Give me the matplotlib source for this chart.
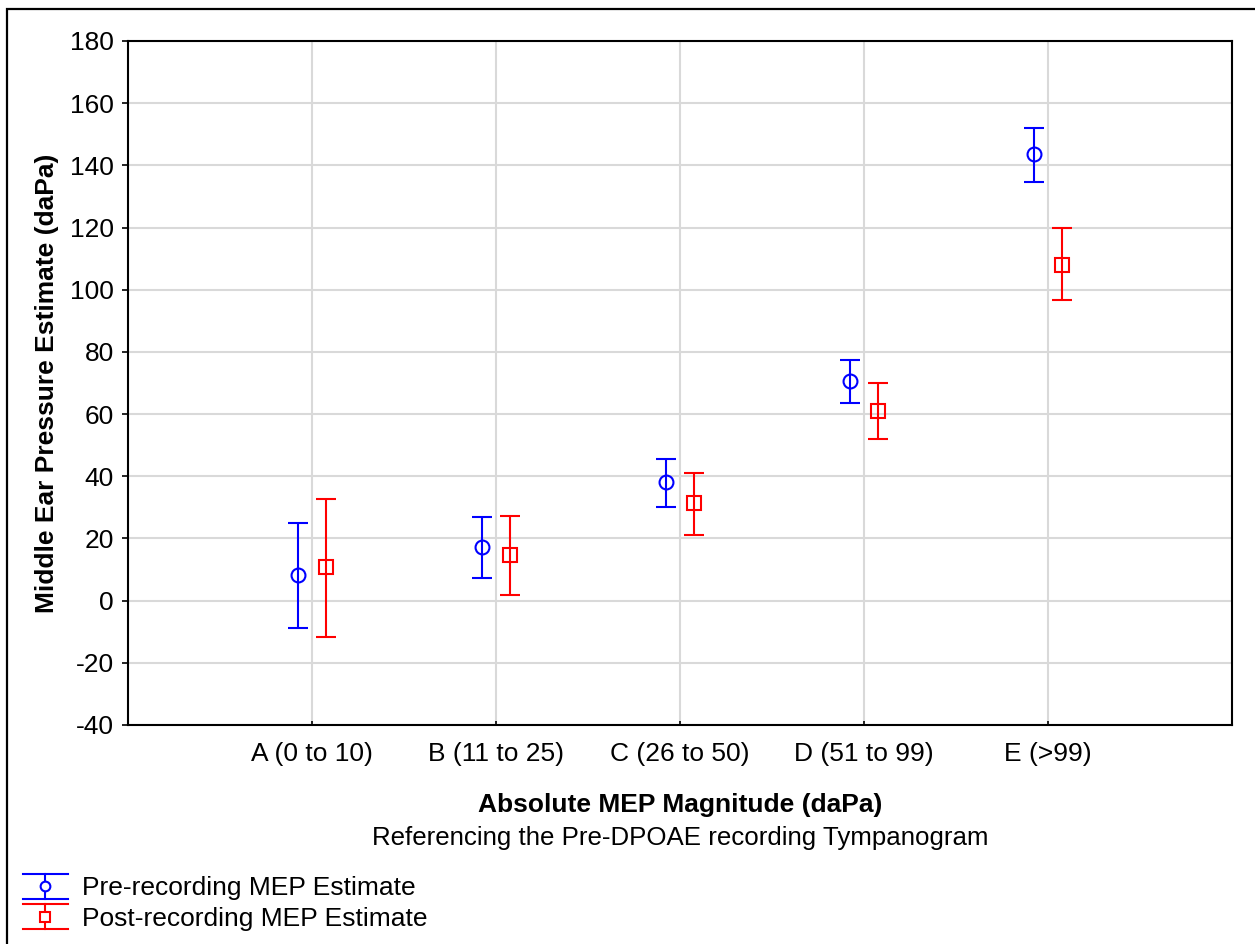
import matplotlib
matplotlib.use("Agg")
import matplotlib.pyplot as plt
from matplotlib.patches import Rectangle
from matplotlib.lines import Line2D
from matplotlib.legend_handler import HandlerBase
import numpy as np

plt.rcParams['font.family'] = ['Liberation Sans', 'DejaVu Sans']

# Groups of absolute middle-ear pressure magnitude
categories = ["A (0 to 10)", "B (11 to 25)", "C (26 to 50)", "D (51 to 99)", "E (>99)"]

# Pre-recording estimate: mean with lower / upper bounds (daPa)
pre_mean = [8.4, 17.4, 38.0, 70.8, 143.5]
pre_low = [-8.7, 7.4, 30.2, 63.7, 134.8]
pre_high = [25.1, 27.0, 45.4, 77.5, 152.1]

# Post-recording estimate: mean with lower / upper bounds (daPa)
post_mean = [10.9, 14.8, 31.5, 61.1, 108.1]
post_low = [-11.6, 1.9, 21.2, 52.1, 96.8]
post_high = [32.8, 27.3, 41.2, 70.1, 119.7]

y_ticks = [-40, -20, 0, 20, 40, 60, 80, 100, 120, 140, 160, 180]

FS = 19
W, H = 1255, 944
fig = plt.figure(figsize=(W / 100, H / 100), dpi=100)

# outer frame around the whole graphic
fig.patches.append(Rectangle((7 / W, -0.05), 1.1, 1 - 9 / H + 0.05, transform=fig.transFigure,
                             fill=False, edgecolor='black', linewidth=1.6))

ax = fig.add_axes([128 / W, (H - 725) / H, 1104 / W, 684 / H])

x = np.arange(1, len(categories) + 1)
off = 0.076

def draw(xpos, mean, low, high, color, marker, ms, label):
    mean = np.asarray(mean)
    yerr = np.vstack([mean - np.asarray(low), np.asarray(high) - mean])
    return ax.errorbar(xpos, mean, yerr=yerr, fmt=marker, color=color, ecolor=color,
                       markerfacecolor='none', markeredgecolor=color, markeredgewidth=1.5,
                       markersize=ms, elinewidth=1.5, capsize=7.5, capthick=1.5,
                       label=label, zorder=3)

h1 = draw(x - off, pre_mean, pre_low, pre_high, '#0000ff', 'o', 10, "Pre-recording MEP Estimate")
h2 = draw(x + off, post_mean, post_low, post_high, '#ff0000', 's', 9.5, "Post-recording MEP Estimate")

ax.set_xlim(0, 6)
ax.set_ylim(-40, 180)
ax.set_xticks(x)
ax.set_xticklabels(categories, fontsize=FS)
ax.set_yticks(y_ticks)
ax.set_yticklabels([str(v) for v in y_ticks], fontsize=FS)
ax.tick_params(axis='y', direction='out', length=4, width=1.2, pad=6)
ax.tick_params(axis='x', direction='in', length=3, width=1.2, pad=12)

ax.grid(True, color='#d9d9d9', linewidth=1.5, zorder=0)
ax.set_axisbelow(True)
for s in ax.spines.values():
    s.set_linewidth(1.5)
    s.set_color('black')

ax.set_ylabel("Middle Ear Pressure Estimate (daPa)", fontsize=FS, fontweight='bold', labelpad=8)
fig.text((128 + 552) / W, 1 - 805 / H, "Absolute MEP Magnitude (daPa)", ha='center', va='center',
         fontsize=FS, fontweight='bold')
fig.text((128 + 552) / W, 1 - 838 / H, "Referencing the Pre-DPOAE recording Tympanogram",
         ha='center', va='center', fontsize=18.6)


class WideCapHandler(HandlerBase):
    """Legend glyph: full-width caps, a centre stem and the point marker."""

    def create_artists(self, legend, orig_handle, xdescent, ydescent, width, height,
                       fontsize, trans):
        data_line = orig_handle.lines[0]
        color = data_line.get_markeredgecolor()
        yc = height / 2 - ydescent
        half = 0.68 * height
        top, bot = yc + half, yc - half
        xc = width / 2 - xdescent
        cap_t = Line2D([-xdescent, width - xdescent], [top, top], color=color, lw=1.5)
        cap_b = Line2D([-xdescent, width - xdescent], [bot, bot], color=color, lw=1.5)
        stem = Line2D([xc, xc], [bot, top], color=color, lw=1.5)
        mk = Line2D([xc], [yc], marker=data_line.get_marker(), markersize=7,
                    markerfacecolor='white', markeredgecolor=color, markeredgewidth=1.5,
                    linestyle='none')
        arts = [cap_t, cap_b, stem, mk]
        for a in arts:
            a.set_transform(trans)
        return arts


leg = fig.legend(handles=[h1, h2], loc='lower left', bbox_to_anchor=(23 / W, 13 / H),
                 frameon=False, fontsize=FS, handlelength=1.7, handletextpad=0.55,
                 labelspacing=0.25, borderaxespad=0, borderpad=0,
                 handler_map={type(h1): WideCapHandler()})

fig.savefig("out.png", dpi=100)
